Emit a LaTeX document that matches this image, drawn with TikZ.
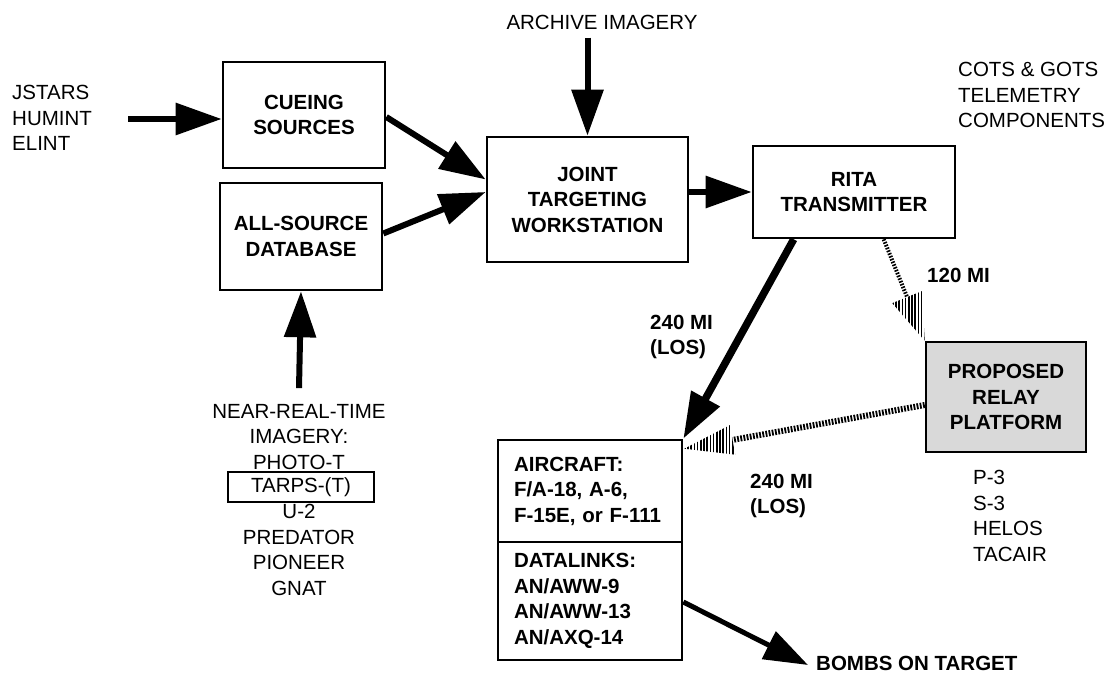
\documentclass[tikz,border=0pt]{standalone}
\usepackage{fontspec}
\setmainfont{Liberation Sans}
\usetikzlibrary{arrows.meta,calc,patterns.meta}
\begin{document}
\begin{tikzpicture}[x=1pt,y=-1pt,
  font=\fontsize{20.5}{25.5}\selectfont,
  box/.style={draw, line width=2.6pt, align=center, font=\fontsize{20.5}{25.5}\selectfont\bfseries, inner sep=2pt},
  lbl/.style={inner sep=1pt, align=left},
  lblc/.style={inner sep=1pt, align=center},
  blbl/.style={inner sep=1pt, align=left, font=\fontsize{20.5}{25.5}\selectfont\bfseries},
  arr/.style={line width=6pt, -{Triangle[length=46pt,width=31pt]}},
  hshaft/.style={line width=6pt, dash pattern=on 1.8pt off 1.4pt},
  hshaftthin/.style={line width=4pt, dash pattern=on 1.6pt off 1.4pt},
  hhead/.style={pattern={Lines[angle=90,distance=3.2pt,line width=1.7pt]}, pattern color=black}
]
\useasboundingbox (0,0) rectangle (1107,676);
\fill[white] (0,0) rectangle (1107,676);

% boxes
\node[box, minimum width=162pt, minimum height=106pt] (cue) at (304,115) {CUEING\\SOURCES};
\node[box, minimum width=162pt, minimum height=107pt] (all) at (301,236.5) {ALL-SOURCE\\DATABASE};
\node[box, minimum width=201pt, minimum height=125pt] (jtw) at (587.5,199.5) {JOINT\\TARGETING\\WORKSTATION};
\node[box, minimum width=202pt, minimum height=92pt] (rita) at (854,192) {RITA\\TRANSMITTER};
\node[box, fill=black!15, minimum width=160pt, minimum height=110pt] (relay) at (1006,397) {PROPOSED\\RELAY\\PLATFORM};
\node[box, align=left, text width=152pt, inner xsep=16pt, minimum width=184pt, minimum height=102pt] (air) at (590,491) {AIRCRAFT:\\F/A-18, A-6,\\F-15E, or F-111};
\node[box, align=left, text width=152pt, inner xsep=16pt, minimum width=184pt, minimum height=118pt] (dl) at (590,601) {DATALINKS:\\AN/AWW-9\\AN/AWW-13\\AN/AXQ-14};

% labels
\node[lbl, anchor=west] (jst) at (11,118) {JSTARS\\HUMINT\\ELINT};
\node[lblc] (arch) at (602,22) {ARCHIVE IMAGERY};
\node[lbl, anchor=west] (cots) at (957,95) {COTS \& GOTS\\TELEMETRY\\COMPONENTS};
\node[blbl, anchor=west] (l120) at (926,275) {120 MI};
\node[blbl, anchor=west] (l240a) at (649,337) {240 MI\\(LOS)};
\node[blbl, anchor=west] (l240b) at (749,496) {240 MI\\(LOS)};
\node[lbl, anchor=west] (plist) at (972,516) {P-3\\S-3\\HELOS\\TACAIR};
\node[blbl, anchor=west] (bombs) at (815,663) {BOMBS ON TARGET};
\node[lblc] (nrt1) at (299,437) {NEAR-REAL-TIME\\IMAGERY:\\PHOTO-T};
\node[draw, line width=2.6pt, inner sep=0pt, minimum width=146pt, minimum height=30pt] (tarps) at (301,487) {TARPS-(T)};
\node[lblc] (nrt2) at (299,550) {U-2\\PREDATOR\\PIONEER\\GNAT};

% solid connectors
\coordinate (jsa) at ($(jst.east)+(35,1)$);
\draw[arr] (jsa) -- (cue.west |- jsa);
\draw[arr] ($(cue.east)+(0,2)$) -- ($(jtw.west)+(0,-20)$);
\draw[arr] ($(all.east)+(0,-3)$) -- ($(jtw.west)+(0,-7.5)$);
\draw[arr] ($(jtw.north)+(0,-98)$) -- (jtw.north);
\draw[arr] (jtw.east |- rita.west) -- (rita.west);
\draw[arr] ($(nrt1.north)+(0,-15)$) -- (all.south);
\draw[arr, line width=7.5pt] ($(rita.south west)+(42,0)$) -- (air.north east);
\draw[line width=5pt, -{Triangle[length=44pt,width=30pt]}] ($(dl.east)+(0,1)$) -- ($(bombs.west)+(-7,2)$);

% hatched connector RITA -> relay
\coordinate (h1s) at ($(rita.south west)!0.645!(rita.south east)$);
\coordinate (h1t) at (relay.north west);
\coordinate (h1b) at ($(h1t)!47pt!(h1s)$);
\draw[hshaftthin] (h1s) -- (h1b);
\fill[hhead] (h1t) -- ($(h1b)!16pt!90:(h1t)$) -- ($(h1b)!16pt!-90:(h1t)$) -- cycle;

% hatched connector relay -> aircraft
\coordinate (h2s) at ($(relay.west)+(0,8)$);
\coordinate (h2t) at ($(air.north east)+(1,10)$);
\coordinate (h2b) at ($(h2t)!49pt!(h2s)$);
\draw[hshaft] (h2s) -- (h2b);
\fill[hhead] (h2t) -- ($(h2b)!15pt!90:(h2t)$) -- ($(h2b)!15pt!-90:(h2t)$) -- cycle;
\end{tikzpicture}
\end{document}
